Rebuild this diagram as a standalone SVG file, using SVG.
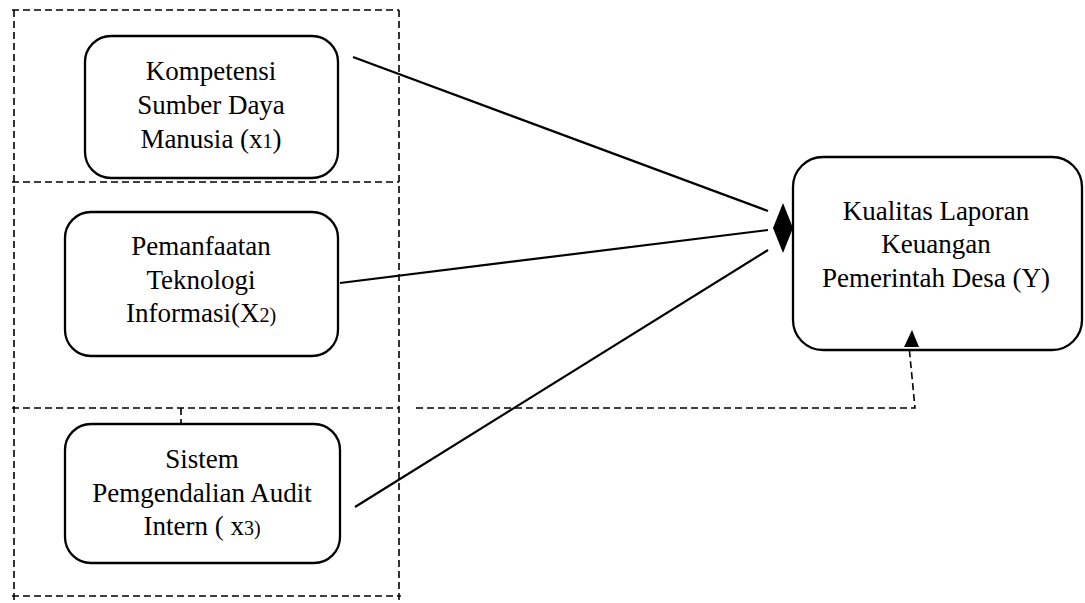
<svg xmlns="http://www.w3.org/2000/svg" width="1085" height="603" viewBox="0 0 1085 603">
<style>
.box{fill:#fff;stroke:#000;stroke-width:2.3}
.dash{fill:none;stroke:#000;stroke-width:1.6;stroke-dasharray:7 4}
.line{fill:none;stroke:#000;stroke-width:2.2}
text{font-family:"Liberation Serif","Times New Roman",serif;font-size:27px;fill:#000;text-anchor:middle}
.sm{font-size:20px}
</style>
<rect width="1085" height="603" fill="#fff"/>
<g id="frame">
<path class="dash" d="M12,10 H399"/>
<path class="dash" d="M14,10 V600"/>
<path class="dash" d="M399,10 V600"/>
<path class="dash" d="M12,182 H399"/>
<path class="dash" d="M12,408 H399"/>
<path class="dash" d="M12,596 H401"/>
<path class="dash" d="M181,408 V446"/>
</g>
<g id="x1">
<rect class="box" x="85" y="36" width="253" height="142" rx="26"/>
<text x="211" y="80">Kompetensi</text>
<text x="211" y="114">Sumber Daya</text>
<text x="211" y="148">Manusia (x<tspan class="sm">1</tspan>)</text>
</g>
<g id="x2">
<rect class="box" x="65" y="212" width="273" height="144" rx="26"/>
<text x="201" y="255">Pemanfaatan</text>
<text x="201" y="289">Teknologi</text>
<text x="201" y="322">Informasi(X<tspan class="sm">2)</tspan></text>
</g>
<g id="x3">
<rect class="box" x="65" y="424" width="275" height="139" rx="26"/>
<text x="202" y="468">Sistem</text>
<text x="202" y="502">Pemgendalian Audit</text>
<text x="202" y="535">Intern ( x<tspan class="sm">3)</tspan></text>
</g>
<g id="y">
<rect class="box" x="793" y="157" width="289" height="193" rx="30"/>
<text x="936" y="220">Kualitas Laporan</text>
<text x="936" y="253">Keuangan</text>
<text x="936" y="287">Pemerintah Desa (Y)</text>
</g>
<g id="connectors">
<line class="line" x1="353" y1="57" x2="768" y2="211"/>
<line class="line" x1="340" y1="283" x2="768" y2="230"/>
<line class="line" x1="355" y1="507" x2="768" y2="250"/>
<polygon points="773,228 783,203 793,228 783,253" fill="#000"/>
<path class="dash" d="M416,408 H915 L909,346"/>
<polygon points="912,330 904,347 919,347" fill="#000"/>
</g>
</svg>
